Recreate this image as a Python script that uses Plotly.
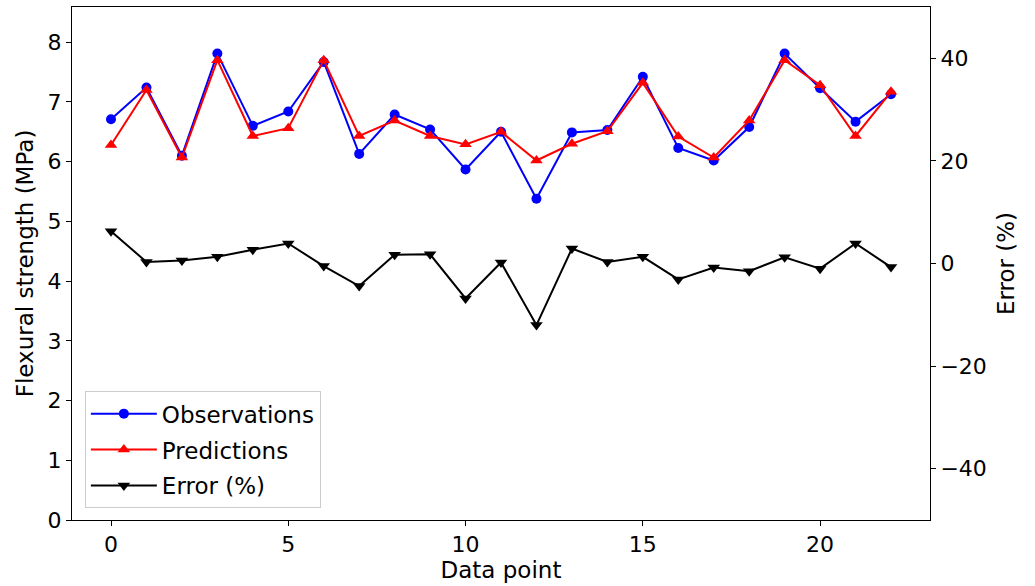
import plotly.graph_objects as go

x_points = list(range(23))
observations = [6.71, 7.24, 6.10, 7.81, 6.60, 6.84, 7.67, 6.13, 6.79, 6.54, 5.87, 6.50,
                5.38, 6.49, 6.53, 7.42, 6.23, 6.02, 6.58, 7.81, 7.23, 6.67, 7.13]
predictions = [6.28, 7.20, 6.07, 7.70, 6.43, 6.56, 7.70, 6.43, 6.69, 6.43, 6.29, 6.50,
               6.02, 6.30, 6.51, 7.32, 6.42, 6.07, 6.69, 7.70, 7.28, 6.43, 7.17]
error_pct = [6.3, 0.3, 0.6, 1.3, 2.7, 3.9, -0.5, -4.4, 1.7, 1.8, -6.8, 0.2,
             -12.0, 2.9, 0.3, 1.3, -3.1, -0.8, -1.5, 1.2, -1.0, 3.9, -0.7]

left_ticks = [0, 1, 2, 3, 4, 5, 6, 7, 8]
right_ticks = [-40, -20, 0, 20, 40]
x_ticks = [0, 5, 10, 15, 20]

FONT = "DejaVu Sans"
TICK_FS = 22
TITLE_FS = 23
LEG_FS = 23

fig = go.Figure()
fig.add_trace(go.Scatter(x=x_points, y=observations, mode="lines+markers", name="Observations",
                         legendgroup="a",
                         line=dict(color="blue", width=2), marker=dict(symbol="circle", size=10, color="blue")))
fig.add_trace(go.Scatter(x=x_points, y=predictions, mode="lines+markers", name="Predictions",
                         legendgroup="b",
                         line=dict(color="red", width=2), marker=dict(symbol="triangle-up", size=11, color="red")))
fig.add_trace(go.Scatter(x=x_points, y=error_pct, mode="lines+markers", name="Error (%)", yaxis="y2",
                         legendgroup="c",
                         line=dict(color="black", width=2), marker=dict(symbol="triangle-down", size=11, color="black")))

axis_common = dict(ticks="outside", ticklen=5, tickcolor="black", showline=True, linecolor="black",
                   linewidth=1, showgrid=False, zeroline=False,
                   tickfont=dict(family=FONT, size=TICK_FS, color="black"))

fig.update_layout(
    width=1035, height=586,
    margin=dict(l=72, r=105, t=7, b=66),
    paper_bgcolor="white", plot_bgcolor="white",
    font=dict(family=FONT, size=TICK_FS, color="black"),
    showlegend=True,
    legend=dict(x=0.015, y=0.023, xanchor="left", yanchor="bottom",
                bgcolor="rgba(255,255,255,0.8)", bordercolor="#cccccc", borderwidth=1,
                font=dict(family=FONT, size=LEG_FS), itemwidth=66, tracegroupgap=3,
                traceorder="grouped"),
    xaxis=dict(range=[-1.1, 23.1], tickvals=x_ticks, mirror=True,
               title=dict(text="Data point", standoff=2, font=dict(family=FONT, size=TITLE_FS)),
               **axis_common),
    yaxis=dict(range=[0, 8.59], tickvals=left_ticks,
               title=dict(text="Flexural strength (MPa)", standoff=7, font=dict(family=FONT, size=TITLE_FS)),
               **axis_common),
    yaxis2=dict(range=[-50, 50], tickvals=right_ticks, overlaying="y", side="right",
                title=dict(text="Error (%)", standoff=12, font=dict(family=FONT, size=TITLE_FS)),
                **axis_common),
)

fig.write_html("out.html")
